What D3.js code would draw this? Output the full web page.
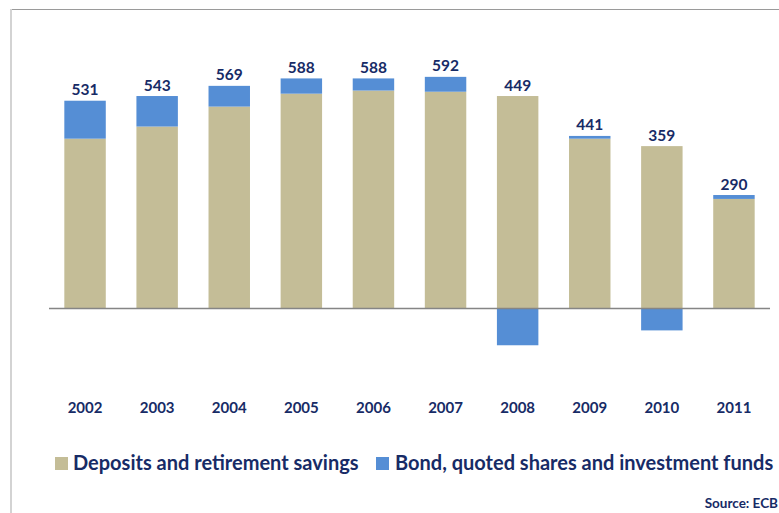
<!DOCTYPE html>
<html>
<head>
<meta charset="utf-8">
<script src="https://cdn.jsdelivr.net/npm/d3@7"></script>
<style>
  html, body { margin: 0; padding: 0; background: #ffffff; }
  svg { display: block; }
  text { font-family: Lato, "Open Sans", sans-serif; font-weight: 700; fill: #172b66; }
</style>
</head>
<body>
<svg id="chart" width="779" height="513"></svg>
<script>
// Household financial flows by year (EUR bn)
const years = ["2002", "2003", "2004", "2005", "2006", "2007", "2008", "2009", "2010", "2011"];
const deposits = [434, 465, 516, 549, 557, 554, 543, 434, 415, 280];
const bonds = [97, 78, 53, 39, 31, 38, -94, 7, -56, 10];
const totals = [531, 543, 569, 588, 588, 592, 449, 441, 359, 290];
const seriesNames = ["Deposits and retirement savings", "Bond, quoted shares and investment funds"];
const seriesColors = ["#c4bd97", "#558ed5"];
const sourceNote = "Source: ECB";

const svg = d3.select("#chart");

// frame lines
svg.append("line").attr("x1", 10).attr("x2", 779).attr("y1", 9.5).attr("y2", 9.5)
  .attr("stroke", "#9a9a9a").attr("stroke-width", 1);
svg.append("line").attr("x1", 11).attr("x2", 11).attr("y1", 9).attr("y2", 513)
  .attr("stroke", "#d3d3d3").attr("stroke-width", 2);

const x = d3.scaleBand().domain(years).range([49, 770]).paddingInner(0.425).paddingOuter(0.2125);
const y = d3.scaleLinear().domain([-250, 700]).range([406.3, 34.6]);

const rows = years.map((yr, i) => ({ year: yr, dep: deposits[i], bond: bonds[i], total: totals[i] }));

const g = svg.append("g");

// deposits segment from zero
g.selectAll("rect.dep").data(rows).join("rect").attr("class", "dep")
  .attr("x", d => x(d.year)).attr("width", x.bandwidth())
  .attr("y", d => y(Math.max(0, d.dep))).attr("height", d => Math.abs(y(d.dep) - y(0)))
  .attr("fill", seriesColors[0]);

// bonds segment: stacked on top when positive, below zero when negative
g.selectAll("rect.bond").data(rows).join("rect").attr("class", "bond")
  .attr("x", d => x(d.year)).attr("width", x.bandwidth())
  .attr("y", d => d.bond >= 0 ? y(d.dep + d.bond) : y(0))
  .attr("height", d => d.bond >= 0 ? y(d.dep) - y(d.dep + d.bond) : y(d.bond) - y(0))
  .attr("fill", seriesColors[1]);

// zero line
svg.append("line").attr("x1", x.range()[0]).attr("x2", x.range()[1])
  .attr("y1", y(0)).attr("y2", y(0)).attr("stroke", "#858585").attr("stroke-width", 1.3);

// total labels above the highest positive segment
g.selectAll("text.total").data(rows).join("text").attr("class", "total")
  .attr("x", d => x(d.year) + x.bandwidth() / 2)
  .attr("y", d => y(d.dep + Math.max(0, d.bond)) - 5.5)
  .attr("text-anchor", "middle").style("font-size", "15.5px")
  .text(d => d.total);

// year axis
const xAxis = svg.append("g")
  .call(d3.axisBottom(x).tickSize(0).tickPadding(0));
xAxis.select(".domain").remove();
xAxis.selectAll("text").attr("y", 412.5).attr("dy", null)
  .style("font-size", "15px").attr("fill", null);
xAxis.attr("font-family", null).attr("font-size", null);

// legend
const legend = svg.append("g");
const legendItems = [
  { name: seriesNames[0], color: seriesColors[0], sx: 55, tx: 73 },
  { name: seriesNames[1], color: seriesColors[1], sx: 376, tx: 395 }
];
legend.selectAll("rect").data(legendItems).join("rect")
  .attr("x", d => d.sx).attr("y", 457).attr("width", 13).attr("height", 13)
  .attr("fill", d => d.color);
legend.selectAll("text").data(legendItems).join("text")
  .attr("x", d => d.tx).attr("y", 469.5).style("font-size", "20px")
  .text(d => d.name);

svg.append("text").attr("x", 778).attr("y", 507.5).attr("text-anchor", "end")
  .style("font-size", "13.5px").text(sourceNote);
</script>
</body>
</html>
